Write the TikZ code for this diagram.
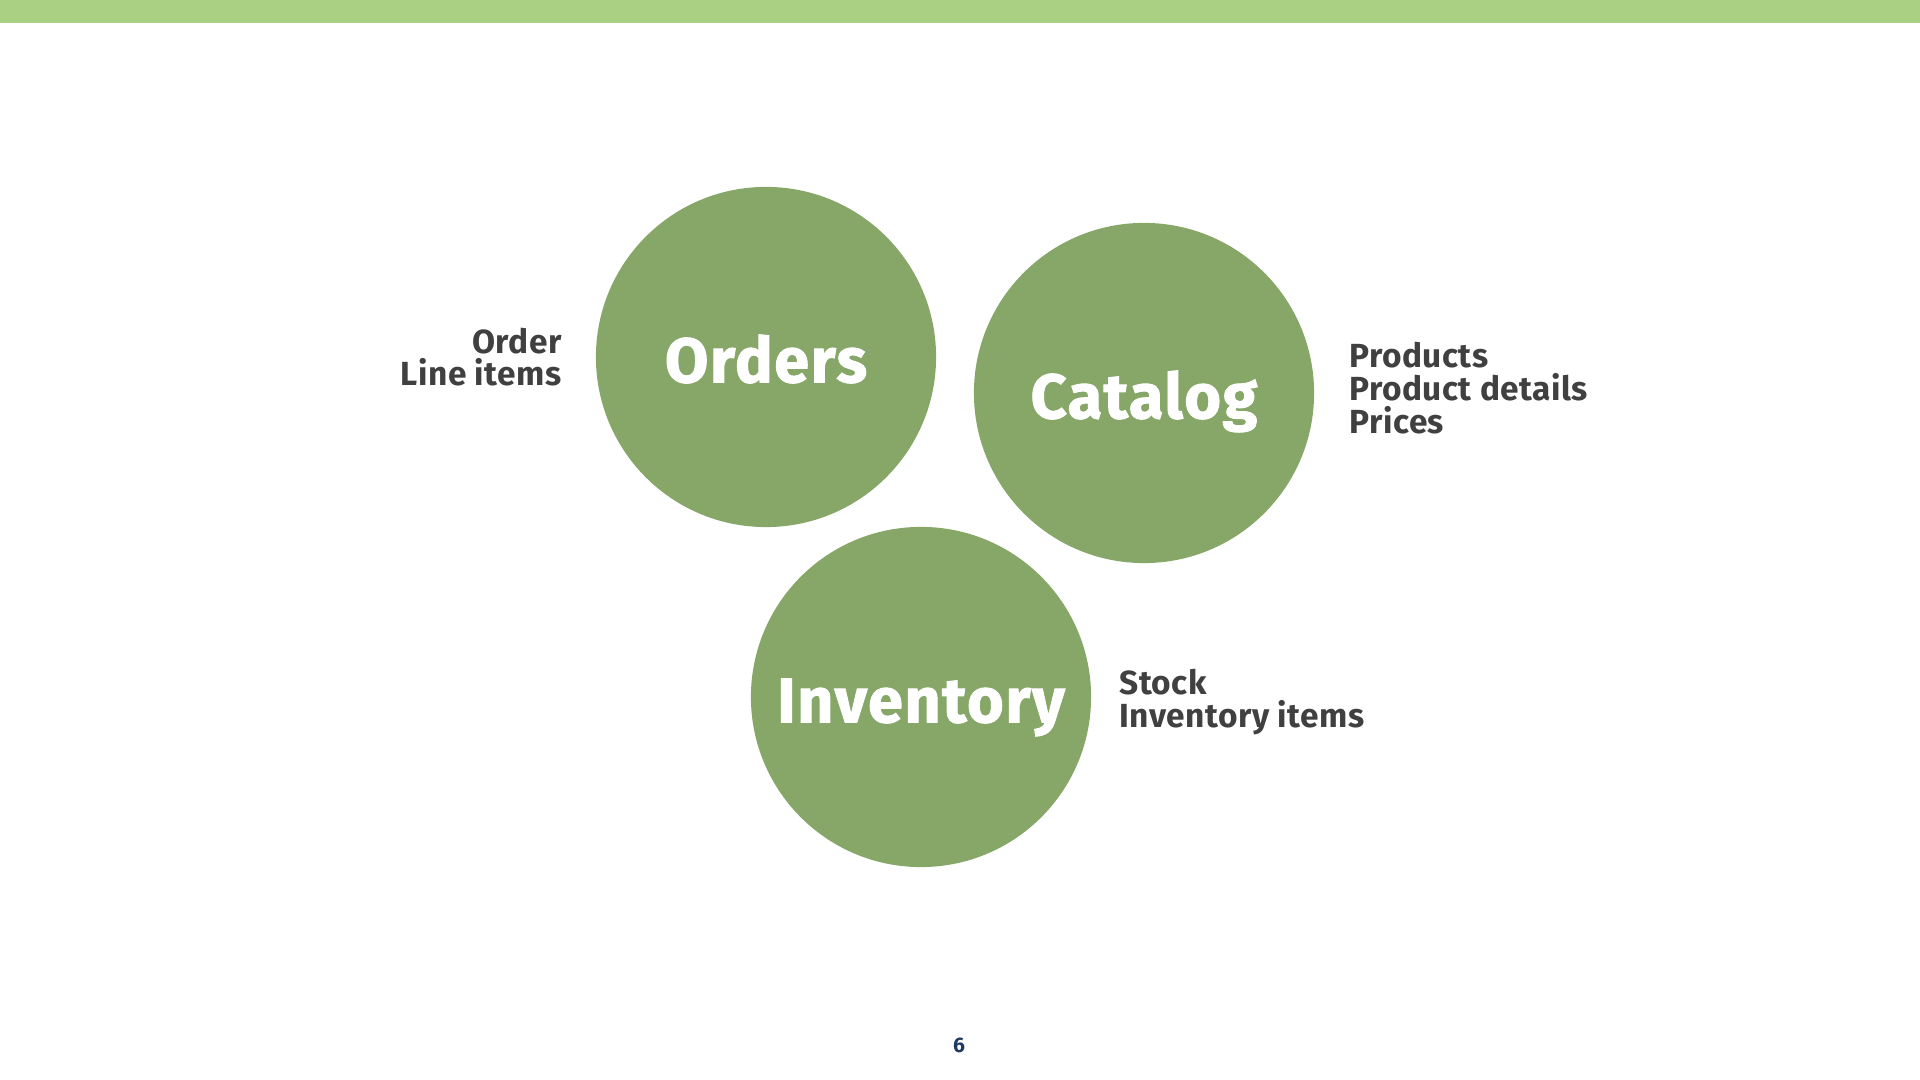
\documentclass[tikz,border=0pt]{standalone}
\usepackage{fontspec}
\setmainfont{Fira Sans}[LetterSpace=1.5]
\newfontfamily\heavyfont{Fira Sans}[BoldFeatures={FakeBold=1.5}, LetterSpace=2.5]
\usetikzlibrary{positioning}

\definecolor{bargreen}{HTML}{A9D083}
\definecolor{bubblegreen}{HTML}{86A768}
\definecolor{listgray}{HTML}{404040}
\definecolor{pagenavy}{HTML}{1F3864}

\begin{document}
\begin{tikzpicture}[x=0.01cm, y=-0.01cm,
  bubble/.style={circle, fill=bubblegreen, minimum size=3.40cm, inner sep=0pt,
    text height=14.4pt, text depth=0pt,
    text=white, font=\heavyfont\bfseries\fontsize{17.9}{20}\selectfont},
  items/.style={inner sep=0pt, text=listgray, font=\bfseries\fontsize{9.5}{9.3}\selectfont}]
  \useasboundingbox (0,0) rectangle (1920,1080);
  \fill[bargreen] (0,0) rectangle (1920,23);
  % the three bubbles
  \node[bubble] (orders) at (766,357) {Orders};
  \node[bubble] (catalog) at (1144,393) {Catalog};
  \node[bubble] (inventory) at (921,697) {Inventory};
  % what each one holds
  \node[items, align=right, left=0.33cm of orders] (orderlist) {Order\\Line items};
  \node[items, align=left, right=0.34cm of catalog, yshift=0.05cm] (cataloglist) {Products\\Product details\\Prices};
  \node[items, align=left, right=0.27cm of inventory, yshift=-0.05cm] (inventorylist) {Stock\\Inventory items};
  \node[text=pagenavy, font=\bfseries\fontsize{6}{7}\selectfont] (pagenum) at (959,1045) {6};
\end{tikzpicture}
\end{document}
